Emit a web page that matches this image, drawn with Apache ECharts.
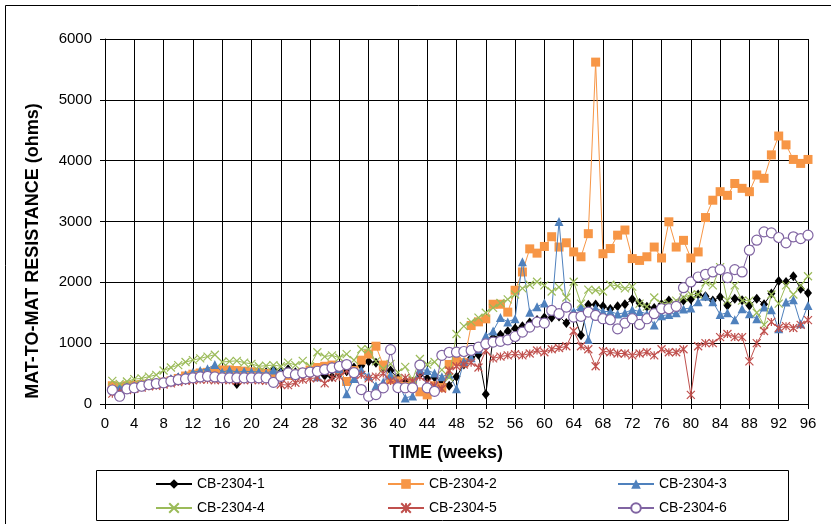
<!DOCTYPE html>
<html><head><meta charset="utf-8">
<script src="https://cdn.jsdelivr.net/npm/echarts@6/dist/echarts.min.js"></script>
<style>html,body{margin:0;padding:0;background:#fff}#c{width:831px;height:524px}</style>
</head><body><div id="c"></div>
<script>
var weeks = [1,2,3,4,5,6,7,8,9,10,11,12,13,14,15,16,17,18,19,20,21,22,23,24,25,26,27,28,29,30,31,32,33,34,35,36,37,38,39,40,41,42,43,44,45,46,47,48,49,50,51,52,53,54,55,56,57,58,59,60,61,62,63,64,65,66,67,68,69,70,71,72,73,74,75,76,77,78,79,80,81,82,83,84,85,86,87,88,89,90,91,92,93,94,95,96];
var seriesNames = ['CB-2304-1','CB-2304-2','CB-2304-3','CB-2304-4','CB-2304-5','CB-2304-6'];
var cb1 = [280,260,290,300,310,320,340,370,400,430, 460,490,500,520,540,520,500,330,480,500, 490,520,560,520,570,520,480,500,560,470, 450,500,540,600,630,700,680,600,550,420, 380,350,490,420,440,380,300,450,650,760, 810,160,1090,1140,1195,1240,1280,1340,1380,1420, 1420,1440,1330,1480,1130,1630,1635,1605,1560,1605, 1640,1720,1660,1600,1580,1640,1700,1640,1700,1720, 1800,1770,1700,1760,1620,1730,1705,1620,1730,1640, 1815,2020,2005,2100,1895,1825];
var cb2 = [300,280,300,310,320,330,340,360,380,420, 460,490,510,520,540,560,560,550,540,530, 520,500,480,460,470,490,520,560,600,620, 640,560,370,550,720,820,950,640,400,380, 290,350,200,150,300,270,650,700,680,1290, 1350,1400,1640,1640,1510,1870,2170,2550,2480,2590, 2750,2580,2650,2500,2420,2800,5620,2470,2555,2775, 2860,2390,2360,2420,2580,2400,2995,2580,2690,2400, 2500,3065,3350,3490,3430,3625,3545,3490,3765,3710, 4095,4405,4260,4020,3955,4020];
var cb3 = [250,280,290,300,320,330,350,380,420,450, 480,520,550,580,650,520,560,520,540,530, 530,500,560,520,500,480,530,560,450,560, 620,580,170,420,560,460,300,360,480,350, 100,130,570,550,510,450,490,250,700,760, 900,1120,1200,1420,1350,1400,2340,1510,1600,1660, 1540,3000,1600,1520,1600,1060,1580,1520,1520,1480, 1500,1550,1520,1480,1300,1450,1470,1500,1560,1580, 1680,1770,1680,1470,1500,1385,1565,1485,1400,1595, 1550,1235,1675,1715,1320,1620];
var cb4 = [380,330,370,410,420,450,480,550,600,640, 690,720,750,780,810,690,700,710,680,660, 620,630,640,620,680,640,710,620,850,780, 800,760,820,720,900,900,700,580,660,520, 610,400,740,650,690,560,440,1150,1280,1350, 1420,1500,1580,1660,1720,1800,1900,1960,2010,1950, 1850,1920,1750,2010,1650,1880,1870,1850,1960,1940, 1900,1930,1650,1600,1750,1650,1650,1700,1750,1800, 1800,2000,1950,2250,1700,1950,1700,1700,1500,1300, 1800,1650,1950,1800,1950,2100];
var cb5 = [170,200,230,250,270,290,300,320,340,360, 380,390,400,400,390,400,390,380,390,400, 390,380,370,320,310,350,400,420,430,340, 430,450,550,500,480,420,450,500,380,340, 430,380,450,350,300,250,550,620,650,680, 600,880,750,780,800,820,800,830,880,850, 900,920,950,1200,950,900,620,870,850,830, 830,800,830,850,800,900,850,850,900,150, 950,1000,1000,1100,1150,1100,1100,700,1000,1200, 1350,1250,1280,1250,1300,1380];
var cb6 = [230,127,248,265,292,320,335,347,375,400, 413,430,445,455,445,430,430,430,430,430, 430,430,357,455,511,483,511,525,538,565, 593,620,648,515,237,127,155,265,894,270, 265,265,640,265,209,800,850,852,863,880, 934,989,1017,1030,1055,1110,1181,1264,1346,1330, 1539,1484,1594,1429,1440,1511,1456,1401,1385,1236, 1330,1401,1308,1401,1484,1566,1566,1605,1912,2006, 2088,2132,2171,2209,2077,2209,2171,2528,2693,2830, 2813,2737,2649,2748,2720,2775];
var xTicks = [0,4,8,12,16,20,24,28,32,36,40,44,48,52,56,60,64,68,72,76,80,84,88,92,96];
var yTicks = [0,1000,2000,3000,4000,5000,6000];

var FONT = 'Liberation Sans, Arial, sans-serif';
var values = [cb1, cb2, cb3, cb4, cb5, cb6];
var colors = ['#000000', '#F79646', '#4F81BD', '#9BBB59', '#C0504D', '#8064A2'];
var symbols = ['diamond', 'rect', 'triangle', 'path://M0,0 L10,10 M10,0 L0,10', 'path://M0,0 L10,10 M10,0 L0,10 M5,0 L5,10', 'circle'];
var sizes = [[8,10], 9, 9, 8, 8, 10];

function pairs(v) { return weeks.map(function (w, i) { return [w, v[i]]; }); }

var series = seriesNames.map(function (name, i) {
  var item;
  if (i === 3 || i === 4) item = { color: 'rgba(0,0,0,0)', borderColor: colors[i], borderWidth: 1.2 };
  else if (i === 5) item = { color: '#ffffff', borderColor: colors[i], borderWidth: 1.2 };
  else item = { color: colors[i], borderWidth: 0 };
  return {
    name: name, type: 'line', data: pairs(values[i]),
    symbol: symbols[i], symbolSize: sizes[i], showAllSymbol: true,
    lineStyle: { color: colors[i], width: 1 }, itemStyle: item,
    emphasis: { disabled: true }, animation: false, z: 2 + i
  };
});

var legendPos = [[155, 477], [387, 477], [617, 477], [155, 501], [387, 501], [617, 501]];
var legends = seriesNames.map(function (name, i) {
  return {
    data: [name], left: legendPos[i][0], top: legendPos[i][1], padding: 0,
    itemWidth: 36, itemHeight: 12, itemGap: 0,
    textStyle: { fontFamily: FONT, fontSize: 14, color: '#000', padding: [0,0,0,0] }
  };
});

var chart = echarts.init(document.getElementById('c'), null, { renderer: 'canvas' });
chart.setOption({
  backgroundColor: '#ffffff',
  animation: false,
  grid: { left: 105, top: 39, right: 23, bottom: 120, containLabel: false },
  xAxis: {
    type: 'value', min: xTicks[0], max: xTicks[xTicks.length - 1], interval: 4,
    axisLine: { lineStyle: { color: '#000', width: 1 } },
    axisTick: { show: true, length: 5, lineStyle: { color: '#000' } },
    axisLabel: { fontFamily: FONT, fontSize: 15, color: '#000', margin: 12, formatter: function (v) { return String(v); } },
    splitLine: { show: true, lineStyle: { color: '#000', width: 1 } }
  },
  yAxis: {
    type: 'value', min: yTicks[0], max: yTicks[yTicks.length - 1], interval: 1000,
    axisLine: { show: true, lineStyle: { color: '#000', width: 1 } },
    axisTick: { show: true, length: 5, lineStyle: { color: '#000' } },
    axisLabel: { fontFamily: FONT, fontSize: 15, color: '#000', margin: 13, formatter: function (v) { return String(v); } },
    splitLine: { show: true, lineStyle: { color: '#000', width: 1 } }
  },
  legend: legends,
  graphic: [
    { type: 'rect', shape: { x: 5.5, y: 5.5, width: 900, height: 600 }, style: { fill: 'none', stroke: '#000', lineWidth: 1 }, silent: true },
    { type: 'rect', shape: { x: 96.5, y: 470.5, width: 692, height: 50 }, style: { fill: 'none', stroke: '#000', lineWidth: 1 }, silent: true },
    { type: 'text', x: 33, y: 251, rotation: Math.PI / 2, style: { text: 'MAT-TO-MAT RESISTANCE (ohms)', font: 'bold 18px ' + FONT, fill: '#000', align: 'center', verticalAlign: 'middle' } },
    { type: 'text', x: 446, y: 453, style: { text: 'TIME (weeks)', font: 'bold 18px ' + FONT, fill: '#000', align: 'center', verticalAlign: 'middle' } }
  ],
  series: series
});
</script>
</body></html>
